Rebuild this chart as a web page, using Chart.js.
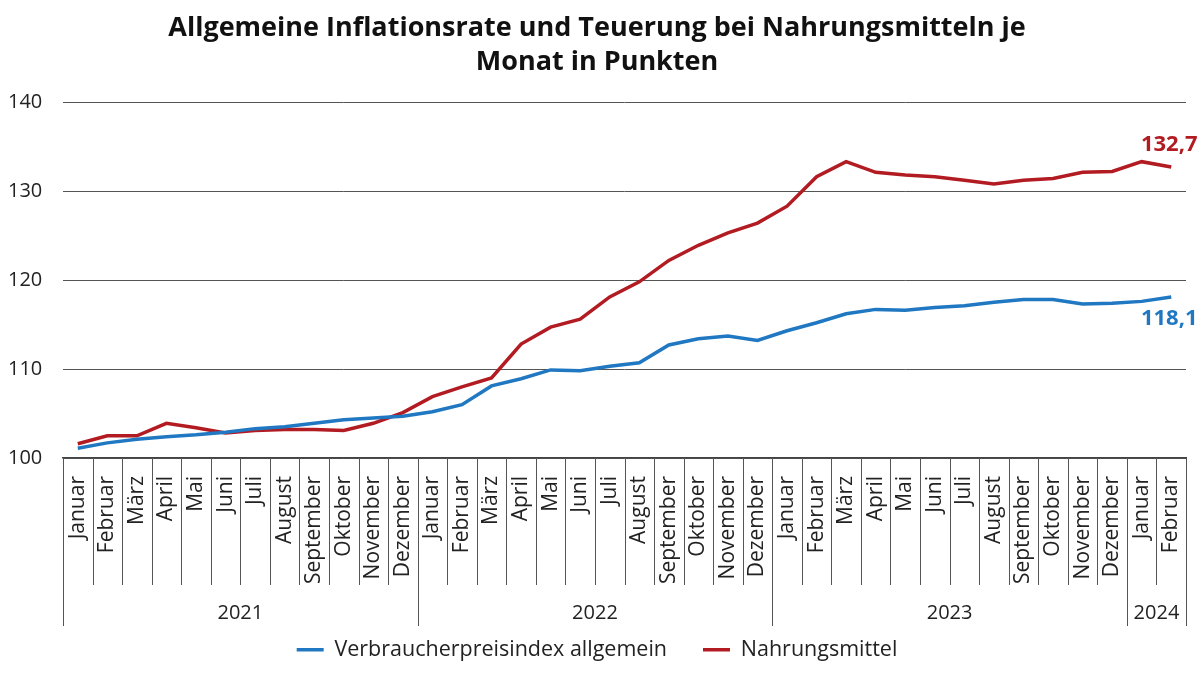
<!DOCTYPE html>
<html>
<head>
<meta charset="utf-8">
<script src="https://cdn.jsdelivr.net/npm/chart.js@4/dist/chart.umd.min.js"></script>
<style>
  html, body { margin: 0; padding: 0; background: #fff; }
</style>
</head>
<body>
<canvas id="myChart" width="1200" height="675"></canvas>
<script>
 const months = ['Januar', 'Februar', 'März', 'April', 'Mai', 'Juni', 'Juli', 'August', 'September', 'Oktober', 'November', 'Dezember',
                 'Januar', 'Februar', 'März', 'April', 'Mai', 'Juni', 'Juli', 'August', 'September', 'Oktober', 'November', 'Dezember',
                 'Januar', 'Februar', 'März', 'April', 'Mai', 'Juni', 'Juli', 'August', 'September', 'Oktober', 'November', 'Dezember',
                 'Januar', 'Februar'];
 const years = ['2021', '2022', '2023', '2024'];
 const monthsPerYear = [12, 12, 12, 2];

 const vpi = [101.1, 101.7, 102.1, 102.4, 102.6, 102.9, 103.3, 103.5, 103.9, 104.3, 104.5, 104.7,
              105.2, 106.0, 108.1, 108.9, 109.9, 109.8, 110.3, 110.7, 112.7, 113.4, 113.7, 113.2,
              114.3, 115.2, 116.2, 116.7, 116.6, 116.9, 117.1, 117.5, 117.8, 117.8, 117.3, 117.4,
              117.6, 118.1];
 const food = [101.6, 102.5, 102.5, 103.9, 103.4, 102.8, 103.1, 103.2, 103.2, 103.1, 103.9, 105.1,
               106.9, 108.0, 109.0, 112.8, 114.7, 115.6, 118.1, 119.8, 122.2, 123.9, 125.3, 126.4,
               128.3, 131.6, 133.3, 132.1, 131.8, 131.6, 131.2, 130.8, 131.2, 131.4, 132.1, 132.2,
               133.3, 132.7];

 const yMin = 100;
 const yMax = 140;
 const yStep = 10;

 const blue = '#1f78c1';
 const red = '#b31b22';
 const fontFamily = "'Open Sans', 'Noto Sans', sans-serif";

 // Trennstriche unter der Achse und Jahreszahlen
 const axisGroups = {
   id: 'axisGroups',
   afterDraw(chart) {
     const ctx = chart.ctx;
     const x = chart.scales.x;
     const top = x.top;
     const step = x.getPixelForValue(1) - x.getPixelForValue(0);
     const yearStarts = [];
     let acc = 0;
     monthsPerYear.forEach(n => { yearStarts.push(acc); acc += n; });
     yearStarts.push(acc);

     ctx.save();
     ctx.strokeStyle = '#555';
     ctx.lineWidth = 1;
     for (let i = 0; i <= months.length; i++) {
       const px = Math.round(x.getPixelForValue(i) - step / 2) + 0.5;
       const isYear = yearStarts.includes(i);
       ctx.beginPath();
       ctx.moveTo(px, top);
       ctx.lineTo(px, isYear ? top + 168 : top + 127);
       ctx.stroke();
     }
     ctx.fillStyle = '#222';
     ctx.font = '20px ' + fontFamily;
     ctx.textAlign = 'center';
     ctx.textBaseline = 'middle';
     years.forEach((yr, k) => {
       const a = x.getPixelForValue(yearStarts[k]) - step / 2;
       const b = x.getPixelForValue(yearStarts[k + 1]) - step / 2;
       ctx.fillText(yr, (a + b) / 2, top + 155);
     });
     ctx.restore();
   }
 };

 // Endwerte an den Linien
 const endLabels = {
   id: 'endLabels',
   afterDatasetsDraw(chart) {
     const ctx = chart.ctx;
     ctx.save();
     ctx.font = 'bold 22px ' + fontFamily;
     ctx.textAlign = 'center';
     ctx.textBaseline = 'middle';
     chart.data.datasets.forEach((ds, i) => {
       const meta = chart.getDatasetMeta(i);
       const last = meta.data[meta.data.length - 1];
       const val = ds.data[ds.data.length - 1];
       ctx.fillStyle = ds.borderColor;
       ctx.fillText(val.toFixed(1).replace('.', ','), last.x - 2, last.y + ds.endLabelOffset);
     });
     ctx.restore();
   }
 };

 const legendHeight = {
   id: 'legendHeight',
   beforeInit(chart) {
     const fit = chart.legend.fit;
     chart.legend.fit = function () {
       fit.bind(chart.legend)();
       this.height = 60;
     };
   }
 };

 const ctx = document.getElementById('myChart').getContext('2d');
 const myChart = new Chart(ctx, {
   type: 'line',
   data: {
     labels: months,
     datasets: [{
       label: 'Verbraucherpreisindex allgemein',
       data: vpi,
       borderColor: blue,
       backgroundColor: blue,
       borderWidth: 3.5,
       pointRadius: 0,
       tension: 0,
       endLabelOffset: 22
     }, {
       label: 'Nahrungsmittel',
       data: food,
       borderColor: red,
       backgroundColor: red,
       borderWidth: 3.5,
       pointRadius: 0,
       tension: 0,
       endLabelOffset: -22
     }]
   },
   options: {
     responsive: false,
     animation: false,
     devicePixelRatio: 1,
     layout: { padding: { left: 8, right: 14, top: 0, bottom: 12 } },
     plugins: {
       title: {
         display: true,
         text: ['Allgemeine Inflationsrate und Teuerung bei Nahrungsmitteln je', 'Monat in Punkten'],
         color: '#111',
         font: { family: fontFamily, size: 27, weight: 'bold', lineHeight: 1.26 },
         padding: { top: 11, bottom: 23 }
       },
       legend: {
         position: 'bottom',
         labels: {
           usePointStyle: true,
           pointStyle: 'line',
           pointStyleWidth: 27,
           boxHeight: 20,
           padding: 36,
           color: '#222',
           font: { family: fontFamily, size: 21.5 }
         }
       },
       tooltip: { enabled: false }
     },
     scales: {
       x: {
         offset: true,
         grid: { display: false },
         border: { display: true, color: '#444', width: 1.5 },
         ticks: {
           autoSkip: false,
           minRotation: 90,
           maxRotation: 90,
           padding: 10,
           color: '#222',
           font: { family: fontFamily, size: 21 }
         },
         afterFit(scale) {
           scale.height = 145;
           scale.paddingLeft = 0;
           scale.paddingRight = 0;
         }
       },
       y: {
         min: yMin,
         max: yMax,
         border: { display: false },
         grid: { color: '#555', lineWidth: 1, drawTicks: false },
         ticks: {
           stepSize: yStep,
           crossAlign: 'far',
           color: '#222',
           font: { family: fontFamily, size: 20 }
         },
         afterFit(scale) { scale.width = 55; }
       }
     }
   },
   plugins: [axisGroups, endLabels, legendHeight]
 });
</script>
</body>
</html>
